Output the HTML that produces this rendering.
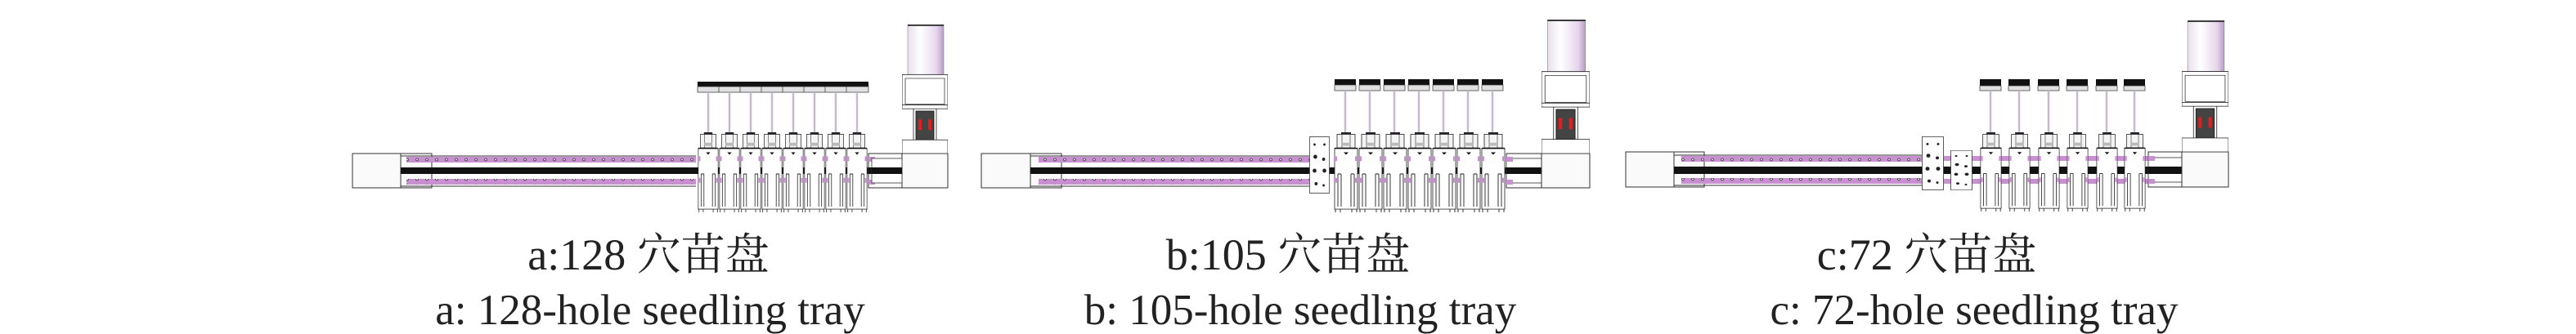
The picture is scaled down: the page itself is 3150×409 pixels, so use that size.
<!DOCTYPE html>
<html><head><meta charset="utf-8"><style>
html,body{margin:0;padding:0;background:#fff;width:3150px;height:409px;overflow:hidden}
svg{display:block}
text{font-family:"Liberation Serif","Noto Serif CJK SC",serif;fill:#222}
</style></head><body>
<svg width="3150" height="409" viewBox="0 0 3150 409" xmlns="http://www.w3.org/2000/svg">
<defs>
<pattern id="dots" x="0" y="0" width="12" height="8" patternUnits="userSpaceOnUse">
<rect width="12" height="8" fill="#c890d0"/><circle cx="6" cy="3.5" r="1.4" fill="#fff" stroke="#333" stroke-width="0.8"/>
</pattern>
<linearGradient id="cyl" x1="0" x2="1" y1="0" y2="0">
<stop offset="0" stop-color="#e8e0ec"/><stop offset="0.35" stop-color="#fff"/><stop offset="0.8" stop-color="#e6d6ec"/><stop offset="1" stop-color="#b89cc6"/>
</linearGradient>
<symbol id="mod" viewBox="0 0 30 100" preserveAspectRatio="none">
<rect x="9" y="0" width="12" height="2.5" fill="#222"/>
<rect x="4" y="2.5" width="22" height="17" fill="#f4f4f4" stroke="#222" stroke-width="0.8"/>
<line x1="10" y1="2.5" x2="10" y2="19.5" stroke="#222" stroke-width="0.6"/>
<line x1="20" y1="2.5" x2="20" y2="19.5" stroke="#222" stroke-width="0.6"/>
<rect x="10" y="13" width="10" height="4" fill="#bbb"/>
<rect x="1" y="20" width="28" height="76" fill="#fff" stroke="#222" stroke-width="0.8"/>
<line x1="1" y1="20" x2="29" y2="20" stroke="#111" stroke-width="1.6"/>
<path d="M12 25 l3 3 l3 -3z" fill="#111"/>
<rect x="1" y="30" width="3" height="6" fill="#c890d0"/><rect x="26" y="30" width="3" height="6" fill="#c890d0"/>
<rect x="1" y="57" width="3" height="6" fill="#c890d0"/><rect x="26" y="57" width="3" height="6" fill="#c890d0"/>
<path d="M5 52 V93 M9 52 V93 M21 52 V93 M25 52 V93" stroke="#222" stroke-width="0.9" fill="none"/>
<path d="M5 52 h4 M21 52 h4" stroke="#222" stroke-width="1"/>
<path d="M2 96 V100 M8 96 V100 M22 96 V100 M28 96 V100" stroke="#222" stroke-width="0.9"/>
</symbol>
<symbol id="motor" viewBox="0 0 56 170" preserveAspectRatio="none">
<rect x="7" y="0" width="44" height="66" fill="url(#cyl)" stroke="#888" stroke-width="0.6"/>
<rect x="7" y="0" width="44" height="2" fill="#333"/>
<rect x="0" y="66" width="56" height="40" fill="#fff" stroke="#222" stroke-width="0.9"/>
<rect x="4" y="71" width="48" height="34" fill="none" stroke="#222" stroke-width="0.7"/>
<rect x="14" y="106" width="28" height="50" fill="#fff" stroke="#222" stroke-width="0.8"/>
<rect x="0" y="106" width="56" height="5" fill="#fff" stroke="#222" stroke-width="0.8"/>
<rect x="17" y="114" width="22" height="38" fill="#444" stroke="#111" stroke-width="0.8"/>
<rect x="20" y="125" width="4" height="14" fill="#e02020"/><rect x="32" y="125" width="4" height="14" fill="#e02020"/>
<rect x="0" y="152" width="56" height="18" fill="#fff" stroke="#222" stroke-width="0.8"/>
</symbol>
<symbol id="plate" viewBox="0 0 27 70" preserveAspectRatio="none">
<rect x="0.5" y="0.5" width="26" height="69" fill="#fff" stroke="#333" stroke-width="0.8"/>
<g fill="#222"><circle cx="7" cy="10" r="1.5"/><circle cx="20" cy="10" r="1.5"/><circle cx="8" cy="25" r="2.5"/><circle cx="19" cy="28" r="2"/><circle cx="7" cy="42" r="2.5"/><circle cx="20" cy="42" r="2.5"/><circle cx="9" cy="58" r="2"/><circle cx="19" cy="60" r="1.5"/></g>
</symbol>
</defs>

<!-- ============ Panel A ============ -->
<g stroke="#333" stroke-width="1" fill="none">
<rect x="431" y="188" width="97" height="42" fill="#fafafa"/>
<line x1="490" y1="188" x2="490" y2="230"/>
<line x1="490" y1="191" x2="851" y2="191"/><line x1="490" y1="228" x2="851" y2="228"/>
</g>
<rect x="497" y="192" width="354" height="7" fill="url(#dots)"/>
<rect x="490" y="205" width="613" height="8" fill="#111"/>
<rect x="497" y="219" width="354" height="7" fill="url(#dots)"/>
<g stroke="#333" stroke-width="1" fill="#fafafa">
<rect x="1062" y="188" width="97" height="42"/>
</g>
<rect x="1062" y="205" width="41" height="8" fill="#111"/>
<rect x="1062" y="192" width="8" height="6" fill="#c890d0"/><rect x="1062" y="220" width="8" height="6" fill="#c890d0"/>
<line x1="1103" y1="188" x2="1103" y2="230" stroke="#333"/>
<rect x="1066" y="194" width="37" height="30" fill="#fff" stroke="#333" stroke-width="0.8"/>
<rect x="1066" y="205" width="37" height="8" fill="#111"/>
<use href="#motor" x="1103" y="30" width="56" height="158"/>
<rect x="853" y="100" width="209" height="6" fill="#111"/>
<g id="barsA">
<rect x="853" y="106" width="209" height="7" fill="#e0e0e0" stroke="#333" stroke-width="0.7"/>
</g>
<g stroke="#333" stroke-width="0.7">
<line x1="879" y1="106" x2="879" y2="113"/><line x1="905" y1="106" x2="905" y2="113"/><line x1="931" y1="106" x2="931" y2="113"/><line x1="957" y1="106" x2="957" y2="113"/><line x1="983" y1="106" x2="983" y2="113"/><line x1="1009" y1="106" x2="1009" y2="113"/><line x1="1035" y1="106" x2="1035" y2="113"/>
</g>
<g stroke="#c8b8d4" stroke-width="2.5">
<line x1="866" y1="113" x2="866" y2="162"/><line x1="892" y1="113" x2="892" y2="162"/><line x1="918" y1="113" x2="918" y2="162"/><line x1="944" y1="113" x2="944" y2="162"/><line x1="970" y1="113" x2="970" y2="162"/><line x1="996" y1="113" x2="996" y2="162"/><line x1="1022" y1="113" x2="1022" y2="162"/><line x1="1048" y1="113" x2="1048" y2="162"/>
</g>
<use href="#mod" x="853" y="162" width="26" height="98"/><use href="#mod" x="879" y="162" width="26" height="98"/>
<use href="#mod" x="905" y="162" width="26" height="98"/><use href="#mod" x="931" y="162" width="26" height="98"/>
<use href="#mod" x="957" y="162" width="26" height="98"/><use href="#mod" x="983" y="162" width="26" height="98"/>
<use href="#mod" x="1009" y="162" width="26" height="98"/><use href="#mod" x="1035" y="162" width="26" height="98"/>
<text x="793" y="330" font-size="54" text-anchor="middle">a:128 穴苗盘</text>
<text x="795" y="397" font-size="53" text-anchor="middle">a: 128-hole seedling tray</text>

<!-- ============ Panel B ============ -->
<g stroke="#333" stroke-width="1" fill="none">
<rect x="1200" y="188" width="98" height="42" fill="#fafafa"/>
<line x1="1260" y1="188" x2="1260" y2="230"/>
<line x1="1260" y1="191" x2="1601" y2="191"/><line x1="1260" y1="228" x2="1601" y2="228"/>
</g>
<rect x="1270" y="192" width="331" height="7" fill="url(#dots)"/>
<rect x="1260" y="205" width="625" height="8" fill="#111"/>
<rect x="1270" y="219" width="331" height="7" fill="url(#dots)"/>
<rect x="1842" y="188" width="102" height="42" fill="#fafafa" stroke="#333"/>
<rect x="1842" y="194" width="43" height="30" fill="#fff" stroke="#333" stroke-width="0.8"/>
<rect x="1842" y="205" width="43" height="8" fill="#111"/>
<rect x="1842" y="192" width="8" height="6" fill="#c890d0"/><rect x="1842" y="220" width="8" height="6" fill="#c890d0"/>
<line x1="1885" y1="188" x2="1885" y2="230" stroke="#333"/>
<use href="#motor" x="1885" y="24" width="59" height="164"/>
<use href="#plate" x="1601" y="167" width="25" height="70"/>
<g fill="#111">
<rect x="1632" y="97" width="26" height="7"/><rect x="1662" y="97" width="26" height="7"/><rect x="1692" y="97" width="26" height="7"/><rect x="1722" y="97" width="26" height="7"/><rect x="1752" y="97" width="26" height="7"/><rect x="1782" y="97" width="26" height="7"/><rect x="1812" y="97" width="26" height="7"/>
</g>
<g fill="#e0e0e0" stroke="#333" stroke-width="0.7">
<rect x="1632" y="104" width="26" height="7"/><rect x="1662" y="104" width="26" height="7"/><rect x="1692" y="104" width="26" height="7"/><rect x="1722" y="104" width="26" height="7"/><rect x="1752" y="104" width="26" height="7"/><rect x="1782" y="104" width="26" height="7"/><rect x="1812" y="104" width="26" height="7"/>
</g>
<g stroke="#c8b8d4" stroke-width="2.5">
<line x1="1645" y1="111" x2="1645" y2="162"/><line x1="1675" y1="111" x2="1675" y2="162"/><line x1="1705" y1="111" x2="1705" y2="162"/><line x1="1735" y1="111" x2="1735" y2="162"/><line x1="1765" y1="111" x2="1765" y2="162"/><line x1="1795" y1="111" x2="1795" y2="162"/><line x1="1825" y1="111" x2="1825" y2="162"/>
</g>
<use href="#mod" x="1631" y="162" width="30" height="98"/><use href="#mod" x="1661" y="162" width="30" height="98"/>
<use href="#mod" x="1691" y="162" width="30" height="98"/><use href="#mod" x="1721" y="162" width="30" height="98"/>
<use href="#mod" x="1751" y="162" width="30" height="98"/><use href="#mod" x="1781" y="162" width="30" height="98"/>
<use href="#mod" x="1811" y="162" width="30" height="98"/>
<text x="1575" y="330" font-size="54" text-anchor="middle">b:105 穴苗盘</text>
<text x="1590" y="397" font-size="53" text-anchor="middle">b: 105-hole seedling tray</text>

<!-- ============ Panel C ============ -->
<g stroke="#333" stroke-width="1" fill="none">
<rect x="1988" y="186" width="96" height="43" fill="#fafafa"/>
<line x1="2047" y1="186" x2="2047" y2="229"/>
<line x1="2047" y1="190" x2="2350" y2="190"/><line x1="2047" y1="227" x2="2350" y2="227"/>
</g>
<rect x="2056" y="191" width="294" height="7" fill="url(#dots)"/>
<rect x="2047" y="204" width="621" height="9" fill="#111"/>
<rect x="2056" y="218" width="294" height="7" fill="url(#dots)"/>
<rect x="2377" y="191" width="250" height="6" fill="#c890d0"/>
<rect x="2377" y="219" width="250" height="6" fill="#c890d0"/>
<rect x="2627" y="186" width="98" height="43" fill="#fafafa" stroke="#333"/>
<rect x="2627" y="193" width="41" height="30" fill="#fff" stroke="#333" stroke-width="0.8"/>
<rect x="2627" y="204" width="41" height="9" fill="#111"/>
<rect x="2627" y="191" width="8" height="6" fill="#c890d0"/><rect x="2627" y="219" width="8" height="6" fill="#c890d0"/>
<line x1="2668" y1="186" x2="2668" y2="229" stroke="#333"/>
<use href="#motor" x="2668" y="25" width="57" height="161"/>
<use href="#plate" x="2350" y="167" width="27" height="66"/>
<use href="#plate" x="2385" y="184" width="27" height="49"/>
<g fill="#111">
<rect x="2421" y="97" width="26" height="8"/><rect x="2456" y="97" width="26" height="8"/><rect x="2492" y="97" width="26" height="8"/><rect x="2527" y="97" width="26" height="8"/><rect x="2563" y="97" width="26" height="8"/><rect x="2597" y="97" width="26" height="8"/>
</g>
<g fill="#e0e0e0" stroke="#333" stroke-width="0.7">
<rect x="2421" y="105" width="26" height="6"/><rect x="2456" y="105" width="26" height="6"/><rect x="2492" y="105" width="26" height="6"/><rect x="2527" y="105" width="26" height="6"/><rect x="2563" y="105" width="26" height="6"/><rect x="2597" y="105" width="26" height="6"/>
</g>
<g stroke="#c8b8d4" stroke-width="2.5">
<line x1="2434" y1="111" x2="2434" y2="162"/><line x1="2469" y1="111" x2="2469" y2="162"/><line x1="2505" y1="111" x2="2505" y2="162"/><line x1="2540" y1="111" x2="2540" y2="162"/><line x1="2576" y1="111" x2="2576" y2="162"/><line x1="2610" y1="111" x2="2610" y2="162"/>
</g>
<use href="#mod" x="2421" y="162" width="27" height="97"/><use href="#mod" x="2456" y="162" width="27" height="97"/>
<use href="#mod" x="2492" y="162" width="27" height="97"/><use href="#mod" x="2527" y="162" width="27" height="97"/>
<use href="#mod" x="2563" y="162" width="27" height="97"/><use href="#mod" x="2597" y="162" width="27" height="97"/>
<text x="2356" y="330" font-size="54" text-anchor="middle">c:72 穴苗盘</text>
<text x="2414" y="397" font-size="53" text-anchor="middle">c: 72-hole seedling tray</text>
</svg>
</body></html>
